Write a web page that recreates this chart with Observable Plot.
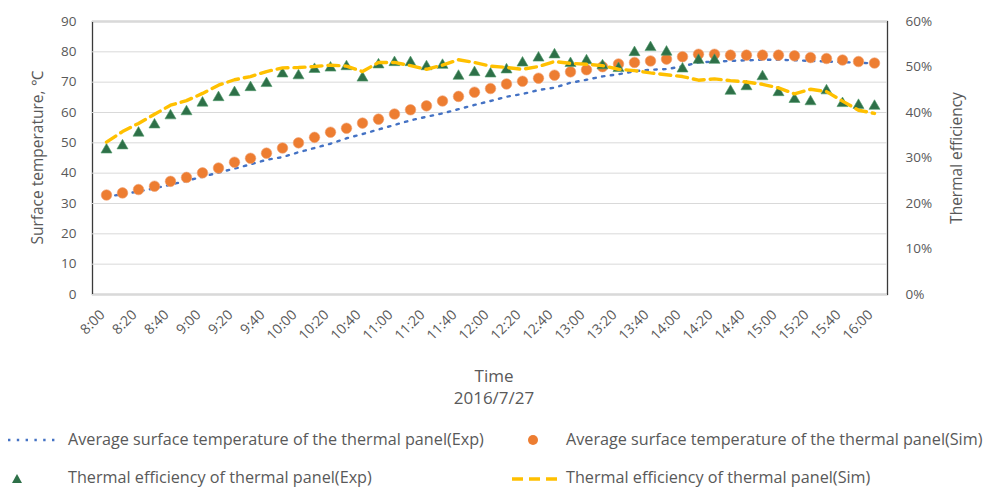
<!DOCTYPE html>
<html>
<head>
<meta charset="utf-8">
<script src="https://cdn.jsdelivr.net/npm/d3@7"></script>
<script src="https://cdn.jsdelivr.net/npm/@observablehq/plot@0.6"></script>
<style>
  html, body { margin: 0; padding: 0; background: #fff; }
  #wrap { position: relative; width: 987px; height: 490px; font-family: "Open Sans", sans-serif; color: #595959; }
  .abs { position: absolute; white-space: nowrap; }
  .xt { font-size: 17px; transform: translateX(-50%); line-height: 24px; }
  .lg { font-size: 16.2px; line-height: 22px; }
</style>
</head>
<body>
<div id="wrap">
  <div id="chart"></div>
  <div class="abs xt" style="left:494px; top:364px;">Time</div>
  <div class="abs xt" style="left:494px; top:386px;">2016/7/27</div>
  <div id="legend"></div>
</div>
<script>
// ---- data ----
const times = ["8:00","8:10","8:20","8:30","8:40","8:50","9:00","9:10","9:20","9:30","9:40","9:50",
  "10:00","10:10","10:20","10:30","10:40","10:50","11:00","11:10","11:20","11:30","11:40","11:50",
  "12:00","12:10","12:20","12:30","12:40","12:50","13:00","13:10","13:20","13:30","13:40","13:50",
  "14:00","14:10","14:20","14:30","14:40","14:50","15:00","15:10","15:20","15:30","15:40","15:50","16:00"];
const tickLabels = ["8:00","8:20","8:40","9:00","9:20","9:40","10:00","10:20","10:40","11:00","11:20","11:40",
  "12:00","12:20","12:40","13:00","13:20","13:40","14:00","14:20","14:40","15:00","15:20","15:40","16:00"];
const tempExp = [32.3,33.0,34.0,35.0,36.2,37.5,38.8,40.2,41.5,42.9,44.4,45.3,46.9,48.3,49.7,51.5,52.9,54.4,55.9,57.4,58.6,59.7,61.1,62.5,63.8,65.2,66.1,67.4,68.2,69.8,70.8,71.9,72.6,73.6,74.1,74.3,75.2,76.5,76.8,77.0,77.2,77.4,77.4,77.2,77.0,76.8,76.6,76.4,76.2];
const tempSim = [32.8,33.5,34.6,35.7,37.3,38.6,40.1,41.7,43.6,44.9,46.6,48.3,50.0,51.8,53.5,54.8,56.5,57.8,59.5,60.9,62.2,63.8,65.3,66.7,67.9,69.4,70.3,71.3,72.3,73.4,74.1,75.1,76.0,76.5,77.0,77.6,78.4,79.2,79.2,78.9,78.9,78.9,78.9,78.7,78.1,77.8,77.3,76.8,76.3];
const effExp = [31.8,32.7,35.5,37.3,39.3,40.2,42.1,43.3,44.4,45.5,46.4,48.5,48.1,49.5,49.8,50.1,47.6,50.5,51.0,51.0,50.1,50.4,48.0,48.8,48.5,49.4,50.9,52.0,52.7,50.8,51.4,50.3,49.7,53.2,54.3,53.3,49.6,51.5,51.5,44.7,45.7,47.9,44.4,42.9,42.4,44.8,42.0,41.6,41.4];
const effSim = [33.5,35.8,37.6,39.6,41.6,42.6,44.2,46.0,47.2,47.9,49.0,49.8,49.9,50.1,50.4,50.2,49.0,51.0,51.0,50.3,49.5,50.4,51.6,51.0,50.2,49.9,49.5,50.1,51.2,50.8,50.6,50.3,49.5,49.2,48.7,48.3,47.9,47.1,47.4,47.0,46.7,46.2,45.4,44.1,45.1,44.6,42.5,40.5,39.8];
const leftTicks = [0,10,20,30,40,50,60,70,80,90];
const rightTicks = [0,10,20,30,40,50,60];
const seriesNames = [
  "Average surface temperature of the thermal panel(Exp)",
  "Average surface temperature of the thermal panel(Sim)",
  "Thermal efficiency of thermal panel(Exp)",
  "Thermal efficiency of thermal panel(Sim)"
];
const leftLabel = "Surface temperature, ℃";
const rightLabel = "Thermal efficiency";

// ---- derived ----
const k = d3.max(leftTicks) / d3.max(rightTicks); // efficiency % -> left-axis units
const rows = times.map((t, i) => ({t, te: tempExp[i], ts: tempSim[i], ee: effExp[i] * k, es: effSim[i] * k}));

const BLUE = "#4472C4", ORANGE = "#ED7D31", GREEN = "#2E7048", GOLD = "#FFC000";

const chart = Plot.plot({
  width: 987,
  height: 355,
  marginLeft: 92,
  marginRight: 100,
  marginTop: 21,
  marginBottom: 61,
  style: {fontFamily: "Open Sans, sans-serif", fontSize: "13px", color: "#595959", background: "#fff"},
  x: {type: "point", domain: times, padding: 0.5},
  y: {domain: [0, d3.max(leftTicks)]},
  marks: [
    Plot.frame({stroke: "#3a3a3a", strokeWidth: 1.3}),
    Plot.gridY(leftTicks, {stroke: "#d9d9d9", strokeOpacity: 1, strokeWidth: 1}),
    Plot.axisX(tickLabels, {tickSize: 0, tickPadding: 18, tickRotate: -45, label: null, fontSize: 14, dx: -4}),
    Plot.axisY(leftTicks, {anchor: "left", tickSize: 0, tickPadding: 16, fontSize: 13.5,
      label: leftLabel, labelAnchor: "center", labelOffset: 61, labelArrow: "none"}),
    Plot.axisY(rightTicks.map(v => v * k), {anchor: "right", tickSize: 0, tickPadding: 18, fontSize: 13.5,
      tickFormat: d => Math.round(d / k) + "%",
      label: rightLabel, labelAnchor: "center", labelOffset: 74, labelArrow: "none"}),
    Plot.line(rows, {x: "t", y: "te", stroke: BLUE, strokeWidth: 2.4, strokeDasharray: "2.4,6.4"}),
    Plot.dot(rows, {x: "t", y: "ts", r: 5.3, fill: ORANGE, stroke: "#f0a070", strokeWidth: 0.6}),
    Plot.dot(rows, {x: "t", y: "ee", symbol: "triangle", r: 4.1, fill: GREEN, stroke: "#4f9a6a", strokeWidth: 0.6}),
    Plot.line(rows, {x: "t", y: "es", stroke: GOLD, strokeWidth: 3.4, strokeDasharray: "11,6"})
  ]
});
chart.querySelectorAll("text").forEach(t => {
  if (!t.getAttribute("fill")) t.setAttribute("fill", "#595959");
  const s = t.textContent;
  if (s.includes(leftLabel.slice(0, 8)) || s.includes(rightLabel)) {
    t.textContent = s.replace(/[↑→←↓]/g, "").trim();
    t.style.fontSize = "15.5px";
  }
});
document.getElementById("chart").appendChild(chart);

// ---- legend ----
const legendItems = [
  {name: seriesNames[0], left: 68, top: 428, sym: `<svg width="56" height="10" style="position:absolute;left:-62px;top:7px"><line x1="2" y1="5" x2="54" y2="5" stroke="${BLUE}" stroke-width="2.4" stroke-dasharray="2.4,6.4"/></svg>`},
  {name: seriesNames[1], left: 566, top: 428, sym: `<svg width="14" height="14" style="position:absolute;left:-40px;top:5px"><circle cx="7" cy="7" r="5" fill="${ORANGE}"/></svg>`},
  {name: seriesNames[2], left: 68, top: 466, sym: `<svg width="14" height="14" style="position:absolute;left:-58px;top:6px"><path d="M7,2 L12,11 L2,11 Z" fill="${GREEN}"/></svg>`},
  {name: seriesNames[3], left: 566, top: 466, sym: `<svg width="50" height="10" style="position:absolute;left:-54px;top:8px"><line x1="0" y1="5" x2="48" y2="5" stroke="${GOLD}" stroke-width="3.4" stroke-dasharray="11,6"/></svg>`}
];
const lg = document.getElementById("legend");
legendItems.forEach(it => {
  const d = document.createElement("div");
  d.className = "abs lg";
  d.style.left = it.left + "px";
  d.style.top = it.top + "px";
  d.innerHTML = it.sym + `<span>${it.name}</span>`;
  lg.appendChild(d);
});
</script>
</body>
</html>
